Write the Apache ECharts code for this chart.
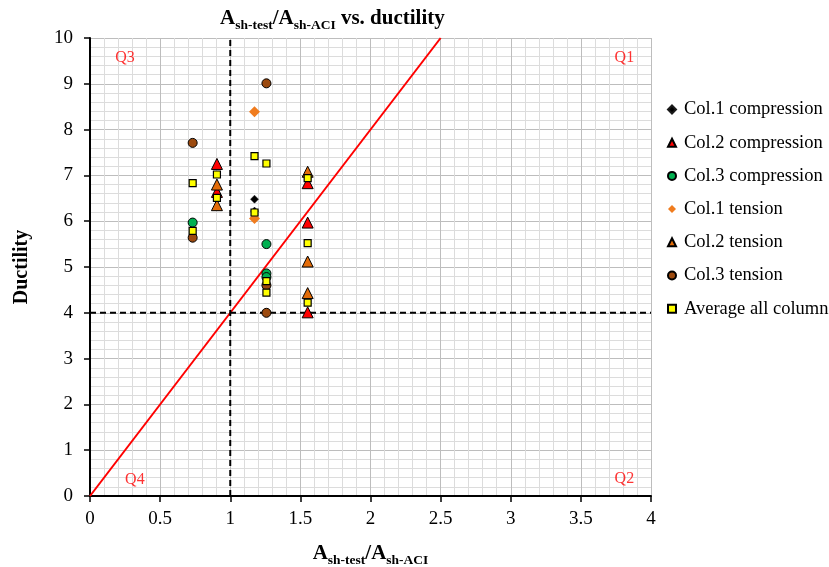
<!DOCTYPE html>
<html>
<head>
<meta charset="utf-8">
<script src="https://cdn.jsdelivr.net/npm/echarts@6/dist/echarts.min.js"></script>
<style>html,body{margin:0;padding:0;background:#fff}#c{width:829px;height:567px}</style>
</head>
<body>
<div id="c"></div>
<script>
// ---- data (x = Ash-test/Ash-ACI, y = ductility) ----
const col1Compression = [[1.173, 6.48], [1.173, 6.22]];
const col2Compression = [[0.905, 7.25], [0.905, 6.64], [1.552, 6.83], [1.552, 5.97], [1.552, 4.01]];
const col3Compression = [[0.732, 5.97], [1.258, 5.50], [1.258, 4.86], [1.258, 4.78]];
const col1Tension = [[1.173, 8.39], [1.173, 6.06]];
const col2Tension = [[0.905, 6.80], [0.905, 6.35], [1.552, 7.08], [1.552, 5.12], [1.552, 4.43]];
const col3Tension = [[0.732, 7.71], [1.258, 9.01], [0.732, 5.64], [1.258, 4.60], [1.258, 4.00]];
const averageAll = [[0.732, 6.83], [0.905, 7.02], [0.905, 6.51], [0.732, 5.79], [1.173, 7.42], [1.258, 7.26],
                    [1.173, 6.19], [1.552, 6.94], [1.552, 5.52], [1.258, 4.69], [1.258, 4.44], [1.552, 4.22]];
const seriesNames = ['Col.1 compression', 'Col.2 compression', 'Col.3 compression', 'Col.1 tension',
                     'Col.2 tension', 'Col.3 tension', 'Average all column'];
const diagonalLine = [[0, 0], [2.5, 10]];
const verticalRef = [[1, 0], [1, 10]];
const horizontalRef = [[0, 4], [4, 4]];
const quadrantLabels = [[0.25, 9.56, 'Q3'], [3.81, 9.56, 'Q1'], [0.32, 0.35, 'Q4'], [3.81, 0.38, 'Q2']];
const xMin = 0, xMax = 4, xStep = 0.5;
const yMin = 0, yMax = 10, yStep = 1;

const FONT = '"Liberation Serif", "Times New Roman", serif';
const chart = echarts.init(document.getElementById('c'));

function sc(name, data, symbol, size, fill, border, bw) {
  return {
    name, type: 'scatter', data, symbol, symbolSize: size,
    itemStyle: { color: fill, borderColor: border, borderWidth: bw, opacity: 1 },
    z: 5
  };
}
const axisNameRich = {
  a: { fontFamily: FONT, fontSize: 21, fontWeight: 'bold', color: '#000' },
  s: { fontFamily: FONT, fontSize: 13.5, fontWeight: 'bold', color: '#000', verticalAlign: 'bottom', padding: [0, 0, -4, 0] }
};

chart.setOption({
  animation: false,
  backgroundColor: '#fff',
  title: {
    text: '{a|A}{s|sh-test}{a|/A}{s|sh-ACI}{a| vs. ductility}',
    left: 215, top: 3,
    textStyle: { rich: axisNameRich }
  },
  legend: {
    orient: 'vertical', left: 662, top: 95, itemGap: 14.2,
    itemWidth: 8, itemHeight: 8,
    data: seriesNames,
    textStyle: { fontFamily: FONT, fontSize: 18.5, color: '#000', padding: [0, 0, 0, 3] }
  },
  grid: { left: 90, right: 178, top: 38, bottom: 71, outerBoundsMode: 'none', containLabel: false },
  xAxis: {
    type: 'value', min: xMin, max: xMax, interval: xStep,
    name: '{a|A}{s|sh-test}{a|/A}{s|sh-ACI}', nameLocation: 'middle', nameGap: 47,
    nameTextStyle: { rich: axisNameRich },
    axisLine: { onZero: false, lineStyle: { color: '#000', width: 2 } },
    axisTick: { show: true, length: 6, lineStyle: { color: '#000', width: 1.5 } },
    axisLabel: { fontFamily: FONT, fontSize: 19, color: '#000', margin: 14 },
    splitLine: { show: true, lineStyle: { color: '#bdbdbd', width: 1 } },
    minorTick: { show: false, splitNumber: 5 },
    minorSplitLine: { show: true, lineStyle: { color: '#dcdcdc', width: 1 } }
  },
  yAxis: {
    type: 'value', min: yMin, max: yMax, interval: yStep,
    name: 'Ductility', nameLocation: 'middle', nameGap: 58,
    nameTextStyle: { fontFamily: FONT, fontSize: 20, fontWeight: 'bold', color: '#000' },
    axisLine: { onZero: false, lineStyle: { color: '#000', width: 2 } },
    axisTick: { show: true, length: 6, lineStyle: { color: '#000', width: 1.5 } },
    axisLabel: { fontFamily: FONT, fontSize: 19, color: '#000', margin: 17 },
    splitLine: { show: true, lineStyle: { color: '#bdbdbd', width: 1 } },
    minorTick: { show: false, splitNumber: 5 },
    minorSplitLine: { show: true, lineStyle: { color: '#dcdcdc', width: 1 } }
  },
  series: [
    { type: 'line', data: diagonalLine, symbol: 'none', lineStyle: { color: '#ff0000', width: 2 }, z: 3, silent: true },
    { type: 'line', data: verticalRef, symbol: 'none', lineStyle: { color: '#000', width: 2, type: [6, 4] }, z: 3, silent: true },
    { type: 'line', data: horizontalRef, symbol: 'none', lineStyle: { color: '#000', width: 2, type: [6, 4] }, z: 3, silent: true },
    {
      type: 'scatter', data: quadrantLabels, symbolSize: 0, silent: true, z: 4,
      label: { show: true, position: 'inside', formatter: p => p.data[2],
               fontFamily: FONT, fontSize: 16, color: '#ff0000' }
    },
    sc(seriesNames[0], col1Compression, 'diamond', 8, '#000000', '#1a1a1a', 0.5),
    sc(seriesNames[1], col2Compression, 'triangle', 11, '#ff0000', '#000', 1),
    sc(seriesNames[2], col3Compression, 'circle', 9, '#00b050', '#000', 1),
    sc(seriesNames[3], col1Tension, 'diamond', 11, '#f07c1e', '#f07c1e', 0),
    sc(seriesNames[4], col2Tension, 'triangle', 11, '#e36c09', '#000', 1),
    sc(seriesNames[5], col3Tension, 'circle', 9, '#9c4a0f', '#000', 1),
    sc(seriesNames[6], averageAll, 'rect', 7, '#ffff00', '#000', 1.2)
  ]
});
</script>
</body>
</html>
